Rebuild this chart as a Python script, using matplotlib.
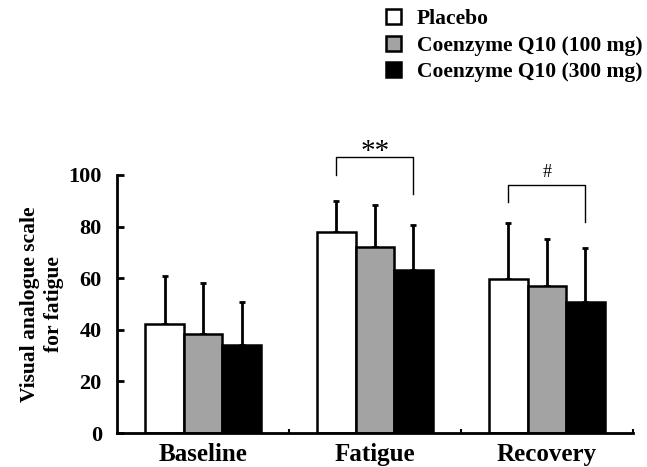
import matplotlib
matplotlib.use("Agg")
import matplotlib.pyplot as plt
import matplotlib.patches as mpatches
import numpy as np

# Data
categories = ["Baseline", "Fatigue", "Recovery"]
groups = ["Placebo", "Coenzyme Q10 (100 mg)", "Coenzyme Q10 (300 mg)"]
placebo = [42.2, 77.8, 59.6]
q10_100 = [38.4, 72.2, 57.1]
q10_300 = [34.1, 63.2, 50.9]
placebo_sd = [18.7, 12.2, 21.7]
q10_100_sd = [19.9, 16.2, 18.1]
q10_300_sd = [16.8, 17.4, 20.7]

plt.rcParams["font.family"] = ["Liberation Serif", "DejaVu Serif"]
plt.rcParams["font.weight"] = "bold"

fig = plt.figure(figsize=(6.47, 4.67), dpi=100)
ax = fig.add_axes([0.181, 0.0728, 0.797, 0.5525])

x = np.arange(len(categories))
w = 0.224
series = [(placebo, placebo_sd, "white"),
          (q10_100, q10_100_sd, "#a3a3a3"),
          (q10_300, q10_300_sd, "black")]
for i, (vals, sd, col) in enumerate(series):
    pos = x + (i - 1) * w
    ax.bar(pos, vals, w, color=col, edgecolor="black", linewidth=1.8, zorder=2)
    ax.errorbar(pos, vals, yerr=[np.zeros(len(vals)), sd], fmt="none",
                ecolor="black", elinewidth=2, capsize=2.5, capthick=2, zorder=1)

# significance brackets
def bracket(x0, x1, ytop, yl, yr, label, size, ylab):
    ax.plot([x0, x0, x1, x1], [yl, ytop, ytop, yr], color="black", lw=1.0,
            clip_on=False)
    ax.text((x0 + x1) / 2, ylab, label, ha="center", va="baseline",
            fontsize=size, fontweight="normal", clip_on=False)

bracket(x[1] - w, x[1] + w, 106.9, 100, 92.6, "**", 21, 106.2)
bracket(x[2] - w, x[2] + w, 96, 89.6, 81.9, "#", 13, 99.3)

ax.set_xlim(-0.5, 2.5)
ax.set_ylim(0, 100)
ax.set_yticks([0, 20, 40, 60, 80, 100])
ax.set_xticks(x)
ax.set_xticklabels(categories, fontsize=18, fontweight="bold")
ax.set_xticks([0.5, 1.5, 2.5], minor=True)
ax.tick_params(axis="x", which="major", length=0, pad=7)
ax.tick_params(axis="x", which="minor", direction="in", length=3, width=1.5)
ax.tick_params(axis="y", direction="in", length=5, width=2, labelsize=16, pad=11)
for lab in ax.get_yticklabels():
    lab.set_fontweight("bold")
for s in ["top", "right"]:
    ax.spines[s].set_visible(False)
for s in ["left", "bottom"]:
    ax.spines[s].set_linewidth(2)

ax.set_ylabel("Visual analogue scale\nfor fatigue", fontsize=15.5,
              fontweight="bold", linespacing=1.3, labelpad=3)

handles = [mpatches.Patch(facecolor=c, edgecolor="black", linewidth=1.8, label=g)
           for g, (_, _, c) in zip(groups, series)]
fig.legend(handles=handles, loc="upper left", bbox_to_anchor=(0.5966, 0.98),
           frameon=False, fontsize=15.5, handlelength=0.7, handleheight=0.7,
           handletextpad=0.72, labelspacing=0.29, borderaxespad=0,
           borderpad=0)

fig.savefig("out.png", dpi=100)
